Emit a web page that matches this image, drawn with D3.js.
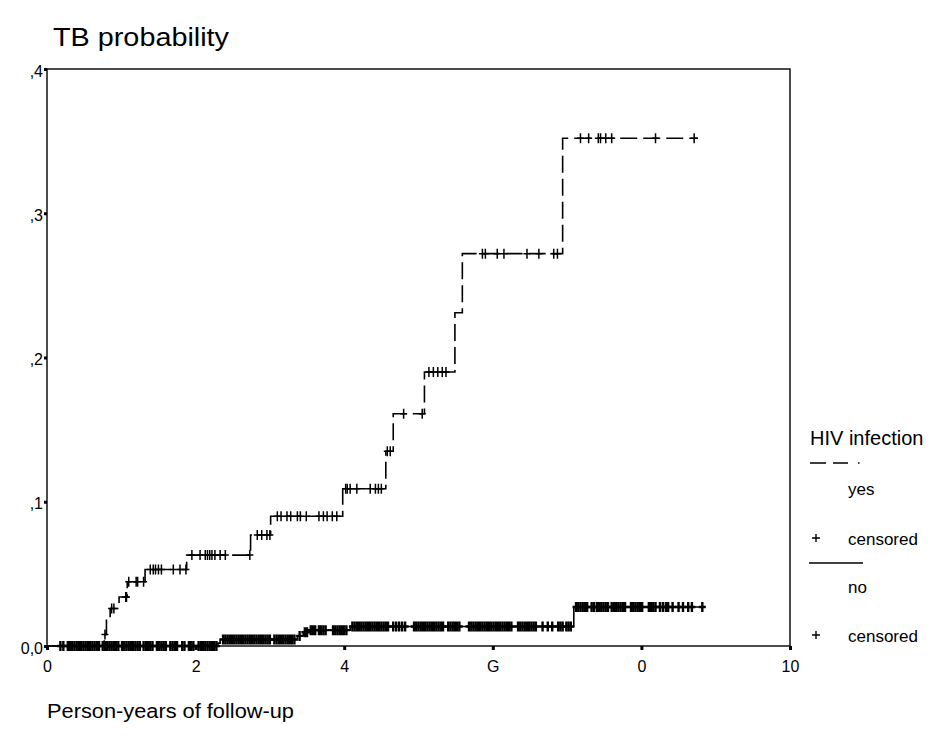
<!DOCTYPE html>
<html>
<head>
<meta charset="utf-8">
<script src="https://cdn.jsdelivr.net/npm/d3@7"></script>
<style>
body { margin: 0; background: #fff; }
text { font-family: "Liberation Sans", Arial, sans-serif; fill: #000; }
</style>
</head>
<body>
<div id="chart"></div>
<script>
const width = 931
const height = 737
const margin = {top: 69, bottom: 91, left: 47, right: 141}

// HIV infection = yes (dashed step curve)
const yesTimes = [0, 0.77, 0.80, 0.85, 0.97, 1.08, 1.32, 1.88, 2.74, 3.01, 3.98, 4.56, 4.66, 5.08, 5.49, 5.59, 6.94, 8.76]
const yesProb  = [0, 0.008, 0.0185, 0.026, 0.034, 0.0445, 0.053, 0.063, 0.077, 0.090, 0.109, 0.135, 0.161, 0.190, 0.231, 0.272, 0.352, 0.352]
const yesCensored = [0.78, 0.87, 0.90, 1.06, 1.07, 1.10, 1.20, 1.22, 1.30, 1.39, 1.43, 1.46, 1.50, 1.54, 1.70, 1.79, 1.87,
  1.95, 2.06, 2.13, 2.16, 2.19, 2.22, 2.26, 2.33, 2.40, 2.73, 2.83, 2.89, 2.96, 3.00, 3.10, 3.15, 3.23, 3.28, 3.37, 3.41,
  3.49, 3.66, 3.72, 3.77, 3.84, 3.90, 4.02, 4.04, 4.08, 4.17, 4.35, 4.42, 4.46, 4.50, 4.58, 4.62, 4.80, 5.05, 5.14, 5.20,
  5.26, 5.32, 5.37, 5.86, 5.90, 6.06, 6.15, 6.46, 6.62, 6.82, 6.87, 7.18, 7.29, 7.42, 7.45, 7.52, 7.60, 8.19, 8.71]

// HIV infection = no (solid step curve)
const noTimes = [0, 2.30, 2.33, 3.37, 3.45, 3.52, 4.08, 7.09, 8.83]
const noProb  = [0, 0.002, 0.0045, 0.007, 0.0095, 0.011, 0.0135, 0.027, 0.027]
const noCensored = [0.18, 0.22, 0.28, 0.31, 0.34, 0.37, 0.40, 0.43, 0.46, 0.49, 0.52, 0.55, 0.58, 0.61, 0.64, 0.67, 0.70,
  0.75, 0.78, 0.81, 0.84, 0.87, 0.90, 0.93, 0.96, 1.01, 1.04, 1.07, 1.10, 1.13, 1.16, 1.19, 1.22, 1.25, 1.30, 1.33, 1.36,
  1.39, 1.42, 1.48, 1.51, 1.54, 1.57, 1.60, 1.66, 1.69, 1.72, 1.75, 1.82, 1.85, 1.91, 1.94, 1.97, 2.04, 2.07, 2.10, 2.13,
  2.16, 2.19, 2.22, 2.25, 2.28,
  2.37, 2.40, 2.43, 2.46, 2.49, 2.52, 2.55, 2.58, 2.61, 2.64, 2.67, 2.70, 2.73, 2.76, 2.79, 2.82, 2.85, 2.88, 2.91, 2.94,
  2.97, 3.00, 3.06, 3.09, 3.12, 3.15, 3.18, 3.21, 3.24, 3.27, 3.30, 3.33,
  3.40, 3.47, 3.50, 3.55, 3.58, 3.61, 3.66, 3.69, 3.72, 3.75, 3.85, 3.88, 3.91, 3.94, 3.97, 4.00, 4.03,
  4.11, 4.14, 4.17, 4.20, 4.23, 4.26, 4.29, 4.32, 4.35, 4.38, 4.41, 4.44, 4.47, 4.50, 4.53, 4.56, 4.59, 4.66, 4.70, 4.74,
  4.78, 4.82, 4.94, 4.97, 5.00, 5.03, 5.06, 5.09, 5.12, 5.15, 5.18, 5.21, 5.24, 5.27, 5.30, 5.33, 5.40, 5.43, 5.46, 5.49,
  5.52, 5.55, 5.68, 5.71, 5.74, 5.77, 5.80, 5.83, 5.86, 5.89, 5.92, 5.95, 5.98, 6.01, 6.04, 6.07, 6.10, 6.13, 6.16, 6.19,
  6.22, 6.25, 6.34, 6.37, 6.40, 6.43, 6.46, 6.49, 6.52, 6.55, 6.58, 6.67, 6.74, 6.80, 6.88, 6.91, 6.94, 6.99, 7.02, 7.05,
  7.12, 7.15, 7.18, 7.21, 7.24, 7.27, 7.33, 7.36, 7.40, 7.43, 7.46, 7.49, 7.52, 7.55, 7.60, 7.63, 7.66, 7.69, 7.72, 7.75,
  7.78, 7.86, 7.89, 7.92, 7.95, 7.98, 8.01, 8.10, 8.13, 8.16, 8.19, 8.25, 8.29, 8.33, 8.36, 8.42, 8.50, 8.56, 8.63, 8.68, 8.82]

// Axis ticks and labels (as printed)
const xTicks = [0, 2, 4, 6, 8, 10]
const xTickLabels = ["0", "2", "4", "G", "0", "10"]
const yTicks = [0, 0.1, 0.2, 0.3, 0.4]
const yTickLabels = ["0,0", ",1", ",2", ",3", ",4"]

const svg = d3.select("div#chart").append("svg").attr("width", width).attr("height", height)

const x = d3.scaleLinear().domain([0, 10]).range([margin.left, width - margin.right])
const y = d3.scaleLinear().domain([0, 0.4]).range([height - margin.bottom, margin.top])

// Title
svg.append("text").attr("x", 53).attr("y", 46)
  .attr("font-size", 25).attr("textLength", 176).attr("lengthAdjust", "spacingAndGlyphs")
  .text("TB probability")

// Frame
svg.append("rect")
  .attr("x", x(0)).attr("y", y(0.4))
  .attr("width", x(10) - x(0)).attr("height", y(0) - y(0.4))
  .attr("fill", "none").attr("stroke", "#000").attr("stroke-width", 1.4)

// Axes
const xAxis = d3.axisBottom(x).tickValues(xTicks).tickSize(4).tickFormat((d, i) => xTickLabels[i])
const yAxis = d3.axisLeft(y).tickValues(yTicks).tickSize(3).tickFormat((d, i) => yTickLabels[i])

const xAxisGroup = svg.append("g").attr("transform", `translate(0, ${y(0)})`).call(xAxis)
xAxisGroup.select(".domain").remove()
xAxisGroup.selectAll("line").attr("stroke-width", 3)
xAxisGroup.selectAll("text").attr("font-size", 16).attr("font-family", null).attr("y", 26).attr("dy", 0)

const yAxisGroup = svg.append("g").attr("transform", `translate(${x(0)}, 0)`).call(yAxis)
yAxisGroup.select(".domain").remove()
yAxisGroup.selectAll("line").attr("stroke-width", 3)
yAxisGroup.selectAll("text").attr("font-size", 16).attr("font-family", null).attr("x", -4).attr("dy", 7)

// Step curves
const line = d3.line().x(d => x(d[0])).y(d => y(d[1])).curve(d3.curveStepAfter)
const probAt = (times, probs, t) => probs[d3.bisectRight(times, t) - 1]

function drawCurve(times, probs, censored, dash, markWidth, half) {
  const g = svg.append("g")
  g.append("path")
    .datum(times.map((t, i) => [t, probs[i]]))
    .attr("d", line)
    .attr("fill", "none").attr("stroke", "#000").attr("stroke-width", 1.6)
    .attr("stroke-dasharray", dash)
  g.selectAll("path.censor")
    .data(censored)
    .enter().append("path")
    .attr("class", "censor")
    .attr("d", t => {
      const cx = x(t), cy = y(probAt(times, probs, t))
      return `M${cx - 3.5},${cy}h7M${cx},${cy - half}v${2 * half}`
    })
    .attr("stroke", "#000").attr("stroke-width", markWidth)
}

drawCurve(noTimes, noProb, noCensored, null, 2.4, 5)
drawCurve(yesTimes, yesProb, yesCensored, "17,6", 1.5, 5)

// X axis title
svg.append("text").attr("x", 47).attr("y", 718)
  .attr("font-size", 20).attr("textLength", 247).attr("lengthAdjust", "spacingAndGlyphs")
  .attr("fill", "#222")
  .text("Person-years of follow-up")

// Legend
const legend = svg.append("g").attr("transform", "translate(810, 0)")
legend.append("text").attr("x", 0).attr("y", 445).attr("font-size", 20).text("HIV infection")
legend.append("line").attr("x1", 0).attr("x2", 52).attr("y1", 463).attr("y2", 463)
  .attr("stroke", "#000").attr("stroke-width", 1.5).attr("stroke-dasharray", "16,7,15,10,1.5,30")
legend.append("text").attr("x", 38).attr("y", 495).attr("font-size", 17).text("yes")
legend.append("path").attr("d", "M2,538h8M6,534v8").attr("stroke", "#000").attr("stroke-width", 1.4)
legend.append("text").attr("x", 38).attr("y", 545).attr("font-size", 17).text("censored")
legend.append("line").attr("x1", -1).attr("x2", 53).attr("y1", 563).attr("y2", 563)
  .attr("stroke", "#000").attr("stroke-width", 1.5)
legend.append("text").attr("x", 38).attr("y", 593).attr("font-size", 17).text("no")
legend.append("path").attr("d", "M2,635h8M6,631v8").attr("stroke", "#000").attr("stroke-width", 1.4)
legend.append("text").attr("x", 38).attr("y", 642).attr("font-size", 17).text("censored")
</script>
</body>
</html>
